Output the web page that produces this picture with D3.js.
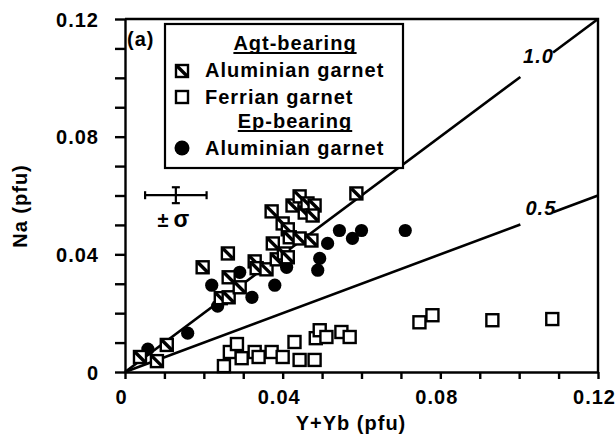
<!DOCTYPE html>
<html>
<head>
<meta charset="utf-8">
<script src="https://cdn.jsdelivr.net/npm/d3@7"></script>
<style>
body { margin: 0; background: #fff; }
text { font-family: "Liberation Sans", Arial, sans-serif; font-weight: bold; fill: #000; letter-spacing: 1px; font-size: 20px; }
</style>
</head>
<body>
<div id="vis"></div>
<script>
// Agt-bearing, aluminian garnet [Y+Yb, Na]
var agtAluminian = [
	[0.0038, 0.0051], [0.0081, 0.0037], [0.0106, 0.0092], [0.0197, 0.0356],
	[0.0261, 0.0403], [0.0263, 0.0322], [0.0243, 0.0251], [0.0263, 0.0254],
	[0.0291, 0.0288], [0.0329, 0.0376], [0.0334, 0.0353], [0.0359, 0.0349],
	[0.0375, 0.0437], [0.0385, 0.0383], [0.0403, 0.0403], [0.0413, 0.0390],
	[0.0372, 0.0546], [0.0400, 0.0505], [0.0413, 0.0485], [0.0418, 0.0458],
	[0.0443, 0.0454], [0.0473, 0.0447], [0.0425, 0.0566], [0.0443, 0.0597],
	[0.0456, 0.0542], [0.0463, 0.0573], [0.0481, 0.0566], [0.0476, 0.0532],
	[0.0587, 0.0607]
];
// Agt-bearing, ferrian garnet
var agtFerrian = [
	[0.0251, 0.0020], [0.0266, 0.0068], [0.0284, 0.0095], [0.0296, 0.0047],
	[0.0329, 0.0068], [0.0339, 0.0051], [0.0372, 0.0068], [0.0400, 0.0051],
	[0.0430, 0.0102], [0.0443, 0.0041], [0.0481, 0.0041], [0.0484, 0.0115],
	[0.0494, 0.0142], [0.0511, 0.0119], [0.0549, 0.0136], [0.0570, 0.0119],
	[0.0747, 0.0169], [0.0780, 0.0193], [0.0932, 0.0176], [0.1084, 0.0180]
];
// Ep-bearing, aluminian garnet
var epAluminian = [
	[0.0058, 0.0078], [0.0159, 0.0132], [0.0220, 0.0295], [0.0235, 0.0224],
	[0.0291, 0.0339], [0.0322, 0.0254], [0.0380, 0.0295], [0.0410, 0.0356],
	[0.0494, 0.0386], [0.0489, 0.0346], [0.0514, 0.0437], [0.0544, 0.0481],
	[0.0577, 0.0454], [0.0600, 0.0481], [0.0711, 0.0481]
];
// Na/(Y+Yb) reference lines, with the gap left for their labels
var refRatios = [1.0, 0.5];
var refGap = [0.1003, 0.1086];
// representative error bar (centre, +/- sigma)
var errBar = {x: 0.0129, y: 0.0601, dx: 0.0078, dy: 0.0027};

var tickValues = d3.range(0, 0.1201, 0.01);
var tickLabels = {"0": "0", "0.04": "0.04", "0.08": "0.08", "0.12": "0.12"};

var margin = {top: 19, right: 17, bottom: 71, left: 125},
	width = 615 - margin.left - margin.right,
	height = 443 - margin.top - margin.bottom;

var x = d3.scaleLinear().domain([0, 0.12]).range([0, width]);
var y = d3.scaleLinear().domain([0, 0.12]).range([height, 0]);

var svg = d3.select("#vis").append("svg")
	.attr("width", 615)
	.attr("height", 443)
.append("g")
	.attr("transform", "translate(" + margin.left + "," + margin.top + ")");

function fmt(d) {
	var k = String(Math.round(d * 100) / 100);
	return tickLabels[k] || "";
}

//x axis
var xa = svg.append("g")
	.attr("transform", "translate(0," + height + ")")
	.call(d3.axisBottom(x).tickValues(tickValues).tickSize(7).tickSizeOuter(0).tickFormat(fmt));
xa.selectAll("text").attr("y", 32).attr("dy", 0).attr("dx", -4).style("font-size", "20px");

//y axis
var ya = svg.append("g")
	.call(d3.axisLeft(y).tickValues(tickValues).tickSize(10).tickSizeOuter(0).tickFormat(fmt));
ya.selectAll("text").attr("x", -26).attr("dy", "0.36em").style("font-size", "20px");

svg.selectAll(".domain, .tick line").attr("stroke", "#000").attr("stroke-width", 2.4);

// frame top and right
svg.append("path")
	.attr("d", "M" + x(0) + "," + y(0.12) + "H" + x(0.12) + "V" + y(0))
	.attr("fill", "none").attr("stroke", "#000").attr("stroke-width", 2.4);

// reference lines
refRatios.forEach(function(r) {
	[[0, refGap[0]], [refGap[1], 0.12]].forEach(function(seg) {
		svg.append("line")
			.attr("x1", x(seg[0])).attr("y1", y(seg[0] * r))
			.attr("x2", x(seg[1])).attr("y2", y(seg[1] * r))
			.attr("stroke", "#000").attr("stroke-width", 2.6);
	});
});
svg.append("text").attr("x", x(0.1010)).attr("y", y(0.1052))
	.style("font-style", "italic").text("1.0");
svg.append("text").attr("x", x(0.1016)).attr("y", y(0.0535))
	.style("font-style", "italic").text("0.5");

// markers
var s = 12;
function hatched(g) {
	g.append("rect").attr("x", -s / 2).attr("y", -s / 2).attr("width", s).attr("height", s)
		.attr("fill", "#fff").attr("stroke", "#000").attr("stroke-width", 2.4);
	g.append("line").attr("x1", -s / 2 + 1).attr("y1", -s / 2 + 1).attr("x2", s / 2 - 1).attr("y2", s / 2 - 1)
		.attr("stroke", "#000").attr("stroke-width", 3.4);
}
function open(g) {
	g.append("rect").attr("x", -s / 2).attr("y", -s / 2).attr("width", s).attr("height", s)
		.attr("fill", "#fff").attr("stroke", "#000").attr("stroke-width", 2.4);
}

svg.selectAll(".fer")
	.data(agtFerrian)
	.enter().append("g")
		.attr("class", "fer")
		.attr("transform", function(d) { return "translate(" + x(d[0]) + "," + y(d[1]) + ")"; })
		.each(function() { open(d3.select(this)); });

svg.selectAll(".ep")
	.data(epAluminian)
	.enter().append("circle")
		.attr("class", "ep")
		.attr("cx", function(d) { return x(d[0]); })
		.attr("cy", function(d) { return y(d[1]); })
		.attr("r", 6.6)
		.attr("fill", "#000");

svg.selectAll(".agt")
	.data(agtAluminian)
	.enter().append("g")
		.attr("class", "agt")
		.attr("transform", function(d) { return "translate(" + x(d[0]) + "," + y(d[1]) + ")"; })
		.each(function() { hatched(d3.select(this)); });

// error bar
var eb = svg.append("g").attr("stroke", "#000").attr("stroke-width", 2.2);
eb.append("line").attr("x1", x(errBar.x - errBar.dx)).attr("x2", x(errBar.x + errBar.dx))
	.attr("y1", y(errBar.y)).attr("y2", y(errBar.y));
eb.append("line").attr("x1", x(errBar.x)).attr("x2", x(errBar.x))
	.attr("y1", y(errBar.y - errBar.dy)).attr("y2", y(errBar.y + errBar.dy));
[errBar.x - errBar.dx, errBar.x + errBar.dx].forEach(function(v) {
	eb.append("line").attr("x1", x(v)).attr("x2", x(v)).attr("y1", y(errBar.y) - 4).attr("y2", y(errBar.y) + 4);
});
[errBar.y - errBar.dy, errBar.y + errBar.dy].forEach(function(v) {
	eb.append("line").attr("x1", x(errBar.x) - 4).attr("x2", x(errBar.x) + 4).attr("y1", y(v)).attr("y2", y(v));
});
svg.append("text").attr("x", x(errBar.x) - 2).attr("y", y(errBar.y) + 32)
	.attr("text-anchor", "middle").text("±").append("tspan").attr("dx", 4).style("font-size", "23px").text("σ");

// panel label and legend
svg.append("text").attr("x", 2).attr("y", 27).text("(a)");
var lg = svg.append("g").attr("transform", "translate(40,5)");
lg.append("rect").attr("width", 238).attr("height", 144)
	.attr("fill", "#fff").attr("stroke", "#000").attr("stroke-width", 2.2);
[["Agt-bearing", 26], ["Ep-bearing", 104]].forEach(function(h) {
	var t = lg.append("text").attr("x", 130).attr("y", h[1]).attr("text-anchor", "middle").text(h[0]);
	var w = t.node().getComputedTextLength();
	lg.append("line").attr("x1", 130 - w / 2).attr("x2", 130 + w / 2)
		.attr("y1", h[1] + 3).attr("y2", h[1] + 3).attr("stroke", "#000").attr("stroke-width", 2.2);
});
hatched(lg.append("g").attr("transform", "translate(17,47)"));
open(lg.append("g").attr("transform", "translate(17,73)"));
lg.append("circle").attr("cx", 17).attr("cy", 124).attr("r", 7.5).attr("fill", "#000");
[["Aluminian garnet", 53], ["Ferrian garnet", 80], ["Aluminian garnet", 131]].forEach(function(r) {
	lg.append("text").attr("x", 40).attr("y", r[1]).text(r[0]);
});

// axis titles
svg.append("text").attr("x", 226).attr("y", height + 58).attr("text-anchor", "middle").text("Y+Yb (pfu)");
svg.append("text").attr("transform", "translate(" + (27 - margin.left) + "," + (206 - margin.top) + ") rotate(-90)")
	.attr("text-anchor", "middle").text("Na (pfu)");
</script>
</body>
</html>
